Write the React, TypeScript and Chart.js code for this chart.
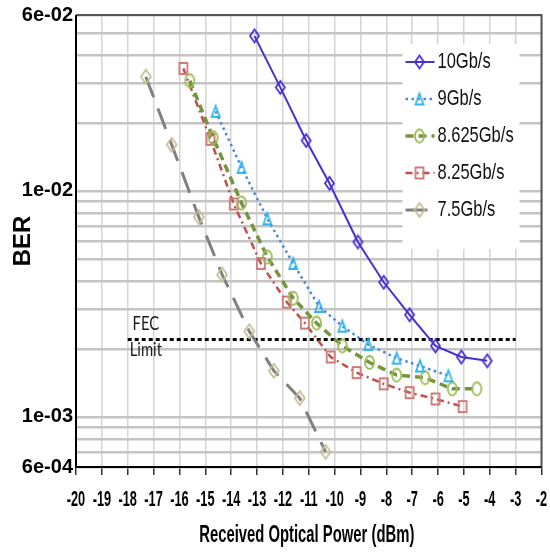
import React, { useEffect, useRef } from "react";
import { Chart, registerables } from "chart.js";

Chart.register(...registerables);

// ---------------- data ----------------
const seriesLabels = ["10Gb/s", "9Gb/s", "8.625Gb/s", "8.25Gb/s", "7.5Gb/s"];

const power10 = [-13.1, -12.1, -11.1, -10.2, -9.1, -8.1, -7.1, -6.1, -5.1, -4.1];
const ber10 = [0.0485, 0.0287, 0.0167, 0.0108, 0.00594, 0.00394, 0.00283, 0.00206, 0.00184, 0.00177];

const power9 = [-14.6, -13.6, -12.6, -11.6, -10.6, -9.7, -8.7, -7.6, -6.7, -5.6];
const ber9 = [0.0225, 0.0127, 0.00752, 0.00477, 0.00308, 0.00252, 0.00209, 0.00182, 0.00168, 0.00152];

const power8625 = [-15.6, -14.7, -13.6, -12.6, -11.6, -10.7, -9.7, -8.65, -7.6, -6.5, -5.45, -4.5];
const ber8625 = [0.0307, 0.0172, 0.00884, 0.0051, 0.00335, 0.0026, 0.00206, 0.00174, 0.00153, 0.00149, 0.00133, 0.00133];

const power825 = [-15.85, -14.8, -13.9, -12.85, -11.85, -11.15, -10.15, -9.15, -8.1, -7.1, -6.1, -5.05];
const ber825 = [0.0348, 0.0169, 0.00875, 0.00477, 0.00322, 0.0026, 0.00184, 0.00157, 0.0014, 0.00128, 0.0012, 0.00111];

const power75 = [-17.3, -16.3, -15.25, -14.35, -13.3, -12.35, -11.35, -10.35];
const ber75 = [0.032, 0.016, 0.00765, 0.00426, 0.00239, 0.0016, 0.00121, 0.0007];

const fecPower = [-18, -3];
const fecBer = [0.0022, 0.0022];
const fecLabels = ["FEC", "Limit"];
const fecLabelPower = -17.3;

const xTickValues = [-20, -19, -18, -17, -16, -15, -14, -13, -12, -11, -10, -9, -8, -7, -6, -5, -4, -3, -2];
const yGridValues = [
  0.0006, 0.0007, 0.0008, 0.0009, 0.001, 0.002, 0.003, 0.004, 0.005, 0.006, 0.007, 0.008, 0.009,
  0.01, 0.02, 0.03, 0.04, 0.05, 0.06,
];
const yLabelValues = [0.06, 0.01, 0.001, 0.0006];
const yLabelTexts = ["6e-02", "1e-02", "1e-03", "6e-04"];

const xTitle = "Received Optical Power (dBm)";
const yTitle = "BER";

// ---------------- styles ----------------
const lineColors = ["#4a2fd4", "#4a8ad4", "#77933c", "#c0504d", "#808080"];
const markerColors = ["#4a2fd4", "#2fb4ee", "#9bbb59", "#cf7a78", "#c4bd97"];
const lineWidths = [2, 2.5, 3.5, 2.5, 3];
const lineDashes: number[][] = [[], [2.5, 3.5], [8, 5], [7, 4, 2, 4], [22, 12]];
const markerShapes = ["diamond", "triangle", "circle", "square", "diamond"];
const markerSizes = [
  [9, 13],
  [8, 11],
  [9, 13],
  [8, 11],
  [10, 14],
];

function makeMarker(shape: string, color: string, w: number, h: number, lw: number) {
  const pad = lw + 1;
  const c = document.createElement("canvas");
  c.width = Math.ceil(w + pad * 2);
  c.height = Math.ceil(h + pad * 2);
  const g = c.getContext("2d")!;
  const cx = c.width / 2;
  const cy = c.height / 2;
  g.strokeStyle = color;
  g.lineWidth = lw;
  g.lineJoin = "miter";
  g.beginPath();
  if (shape === "diamond") {
    g.moveTo(cx, cy - h / 2);
    g.lineTo(cx + w / 2, cy);
    g.lineTo(cx, cy + h / 2);
    g.lineTo(cx - w / 2, cy);
    g.closePath();
  } else if (shape === "triangle") {
    g.moveTo(cx, cy - h / 2);
    g.lineTo(cx + w / 2, cy + h / 2);
    g.lineTo(cx - w / 2, cy + h / 2);
    g.closePath();
  } else if (shape === "circle") {
    g.ellipse(cx, cy, w / 2, h / 2, 0, 0, Math.PI * 2);
  } else {
    g.rect(cx - w / 2, cy - h / 2, w, h);
  }
  g.stroke();
  return c;
}

const sansFamily = "'Liberation Sans', Arial, sans-serif";

function drawScaledText(
  ctx: CanvasRenderingContext2D,
  text: string,
  x: number,
  y: number,
  font: string,
  sx: number,
  align: CanvasTextAlign,
  baseline: CanvasTextBaseline,
  color: string
) {
  ctx.save();
  ctx.translate(x, y);
  ctx.scale(sx, 1);
  ctx.font = font;
  ctx.textAlign = align;
  ctx.textBaseline = baseline;
  ctx.fillStyle = color;
  ctx.fillText(text, 0, 0);
  ctx.restore();
}

const framePlugin = {
  id: "frame",
  beforeDatasetsDraw(chart: any) {
    const { ctx, chartArea: ca } = chart;
    ctx.save();
    ctx.lineWidth = 2;
    ctx.strokeStyle = "#555555";
    ctx.beginPath();
    ctx.moveTo(ca.left, ca.top);
    ctx.lineTo(ca.right, ca.top);
    ctx.lineTo(ca.right, ca.bottom);
    ctx.stroke();
    ctx.strokeStyle = "#000000";
    ctx.beginPath();
    ctx.moveTo(ca.left, ca.top);
    ctx.lineTo(ca.left, ca.bottom);
    ctx.lineTo(ca.right, ca.bottom);
    ctx.stroke();
    ctx.restore();
  },
  afterDraw(chart: any) {
    const { ctx, chartArea: ca } = chart;
    const xs = chart.scales.x;
    const ys = chart.scales.y;

    // x tick labels (condensed, bold)
    xs.ticks.forEach((t: any) => {
      const px = xs.getPixelForValue(t.value);
      drawScaledText(ctx, String(t.label), px, ca.bottom + 39, `bold 22px ${sansFamily}`, 0.58, "center", "alphabetic", "#000");
    });

    // x title
    drawScaledText(ctx, xTitle, (ca.left + ca.right) / 2 - 2, 542, `bold 23px ${sansFamily}`, 0.645, "center", "alphabetic", "#000");

    // FEC labels
    const fx = xs.getPixelForValue(fecLabelPower);
    const fy = ys.getPixelForValue(fecBer[0]);
    drawScaledText(ctx, fecLabels[0], fx, fy - 16, `19px Lato, 'Open Sans', sans-serif`, 0.78, "center", "middle", "#1a1a1a");
    drawScaledText(ctx, fecLabels[1], fx, fy + 10, `19px Lato, 'Open Sans', sans-serif`, 0.78, "center", "middle", "#1a1a1a");

    // legend
    const boxL = ca.right - 139;
    const boxT = ca.top + 29;
    const boxR = ca.right - 22;
    const boxB = ca.top + 234;
    ctx.save();
    ctx.fillStyle = "#ffffff";
    ctx.fillRect(boxL, boxT, boxR - boxL, boxB - boxT);
    ctx.restore();
    for (let i = 0; i < seriesLabels.length; i++) {
      const ds = chart.data.datasets[i];
      const yRow = ca.top + 47 + i * 37;
      ctx.save();
      ctx.strokeStyle = ds.borderColor;
      ctx.lineWidth = ds.borderWidth;
      ctx.setLineDash(ds.borderDash || []);
      ctx.beginPath();
      ctx.moveTo(boxL + 3, yRow);
      ctx.lineTo(boxL + 32, yRow);
      ctx.stroke();
      ctx.restore();
      const m = ds.pointStyle as HTMLCanvasElement;
      ctx.drawImage(m, boxL + 17 - m.width / 2, yRow - m.height / 2);
      drawScaledText(ctx, seriesLabels[i], boxL + 35, yRow, `22px ${sansFamily}`, 0.75, "left", "middle", "#111");
    }
  },
};

export default function App() {
  const ref = useRef<HTMLCanvasElement | null>(null);

  useEffect(() => {
    if (!ref.current) return;
    const powers = [power10, power9, power8625, power825, power75];
    const bers = [ber10, ber9, ber8625, ber825, ber75];
    const datasets: any[] = seriesLabels.map((label, i) => ({
      label,
      data: powers[i].map((p, j) => ({ x: p, y: bers[i][j] })),
      borderColor: lineColors[i],
      borderWidth: lineWidths[i],
      borderDash: lineDashes[i],
      pointStyle: makeMarker(markerShapes[i], markerColors[i], markerSizes[i][0], markerSizes[i][1], 1.8),
      pointRadius: 5,
      pointHoverRadius: 5,
      fill: false,
      tension: 0,
    }));
    datasets.push({
      label: "FEC Limit",
      data: fecPower.map((p, j) => ({ x: p, y: fecBer[j] })),
      borderColor: "#000000",
      borderWidth: 3,
      borderDash: [4, 3],
      pointRadius: 0,
      fill: false,
      tension: 0,
    });

    const chart = new Chart(ref.current, {
      type: "line",
      data: { datasets },
      options: {
        animation: false,
        responsive: false,
        layout: { padding: { top: 11, right: 6, left: 0, bottom: 0 } },
        plugins: { legend: { display: false }, tooltip: { enabled: false } },
        scales: {
          x: {
            type: "linear",
            min: -20,
            max: -2,
            afterBuildTicks: (s: any) => {
              s.ticks = xTickValues.map((v) => ({ value: v }));
            },
            afterFit: (s: any) => {
              s.height = 552 - 467;
            },
            ticks: { display: false, callback: (v: any) => String(v) },
            grid: {
              color: "#d4d4d4",
              lineWidth: 1.5,
              drawTicks: true,
              tickLength: 8,
              tickColor: "#333333",
              tickWidth: 1.5,
            },
            border: { display: false },
          },
          y: {
            type: "logarithmic",
            min: 0.0006,
            max: 0.06,
            afterBuildTicks: (s: any) => {
              s.ticks = yGridValues.map((v) => ({ value: v }));
            },
            afterFit: (s: any) => {
              s.width = 76;
            },
            ticks: {
              autoSkip: false,
              padding: 3,
              color: "#000",
              font: { family: sansFamily, size: 20, weight: "bold" },
              callback: (v: any) => {
                const idx = yLabelValues.findIndex((lv) => Math.abs(Math.log10(lv) - Math.log10(Number(v))) < 1e-4);
                return idx >= 0 ? yLabelTexts[idx] : "";
              },
            },
            grid: { color: "#c4c4c4", lineWidth: 2.5, drawTicks: false },
            border: { display: false },
            title: {
              display: true,
              text: yTitle,
              color: "#000",
              font: { family: sansFamily, size: 24, weight: "bold" },
              padding: { top: 9, bottom: 0 },
            },
          },
        },
      },
      plugins: [framePlugin],
    } as any);
    return () => chart.destroy();
  }, []);

  return (
    <canvas
      ref={ref}
      width={550}
      height={552}
      style={{ position: "fixed", left: 0, top: 0, width: 550, height: 552, display: "block" }}
    />
  );
}
